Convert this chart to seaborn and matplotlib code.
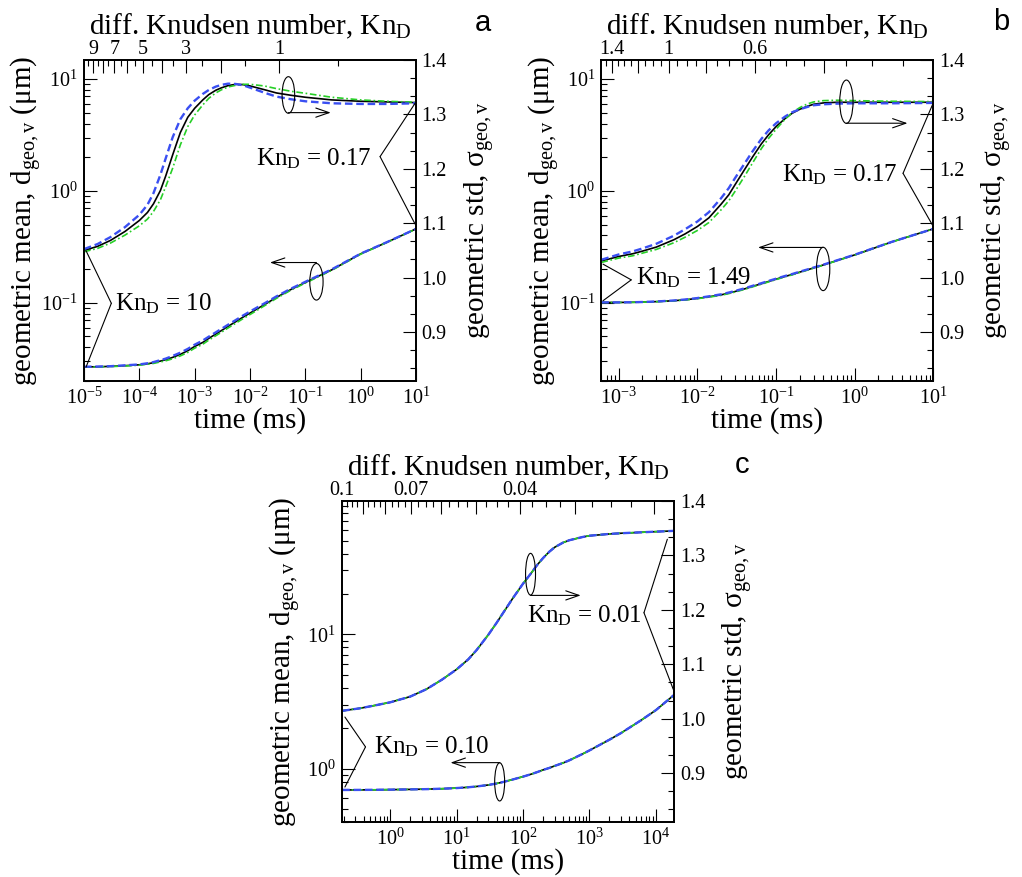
import numpy as np
import pandas as pd
import matplotlib
matplotlib.use("Agg")
import matplotlib.pyplot as plt
from matplotlib.patches import Ellipse
from matplotlib.ticker import (MultipleLocator, NullFormatter, FormatStrFormatter,
                               FixedLocator, LogFormatterSciNotation)
import seaborn as sns

# three simulation runs: solid black, dashed blue, dash-dot green
RUNS = ["run 1", "run 2", "run 3"]
DRAW_ORDER = ["run 1", "run 3", "run 2"]
PALETTE = {"run 1": "#000000", "run 2": "#3a4ff2", "run 3": "#27cf27"}
WIDTHS = {"run 1": 1.2, "run 2": 1.7, "run 3": 1.2}
DASHES = {"run 1": "", "run 2": (3.2, 1.6), "run 3": (4.0, 1.6, 1.0, 1.6)}

# ---------------- panel a : Kn_D 10 -> 0.17 ----------------
time_a = [1e-5, 1.75e-5, 3e-5, 5.5e-5, 1e-4, 1.4e-4, 1.8e-4, 2.4e-4, 3e-4, 4e-4,
          5.5e-4, 7.5e-4, 1e-3, 1.4e-3, 1.8e-3, 2.4e-3, 3e-3, 4e-3, 5.5e-3, 7.5e-3,
          1e-2, 1.8e-2, 3e-2, 5.5e-2, 1e-1, 3e-1, 1, 3, 10]
dgeo_a_run1 = [0.0267, 0.0268, 0.0270, 0.0274, 0.0279, 0.0285, 0.0291, 0.0301, 0.0310, 0.0325,
               0.0346, 0.0373, 0.0407, 0.0442, 0.0481, 0.0525, 0.0562, 0.0615, 0.0677, 0.0745,
               0.0809, 0.0960, 0.1116, 0.1316, 0.152, 0.197, 0.274, 0.348, 0.458]
dgeo_a_run2 = [0.0268, 0.0269, 0.0271, 0.0276, 0.0281, 0.0288, 0.0295, 0.0307, 0.0317, 0.0335,
               0.0358, 0.0387, 0.0422, 0.0460, 0.0498, 0.0544, 0.0582, 0.0636, 0.0700, 0.0770,
               0.0836, 0.0985, 0.1140, 0.1338, 0.1540, 0.199, 0.275, 0.349, 0.458]
dgeo_a_run3 = [0.0266, 0.0267, 0.0269, 0.0272, 0.0277, 0.0282, 0.0287, 0.0296, 0.0303, 0.0316,
               0.0335, 0.0360, 0.0393, 0.0426, 0.0464, 0.0507, 0.0543, 0.0595, 0.0656, 0.0722,
               0.0785, 0.0937, 0.1095, 0.1297, 0.150, 0.195, 0.272, 0.347, 0.457]
sgeo_a_run1 = [1.0500, 1.0573, 1.0683, 1.0848, 1.1050, 1.1197, 1.1356, 1.1600, 1.1870, 1.2256,
               1.2666, 1.2947, 1.3113, 1.3266, 1.3364, 1.3443, 1.3486, 1.3529, 1.3553, 1.3547,
               1.3523, 1.3455, 1.3394, 1.3351, 1.3315, 1.3266, 1.3241, 1.3229, 1.3217]
sgeo_a_run2 = [1.0524, 1.0616, 1.0744, 1.0928, 1.1154, 1.1338, 1.1552, 1.1889, 1.2195, 1.2580,
               1.2911, 1.3113, 1.3253, 1.3376, 1.3449, 1.3510, 1.3541, 1.3565, 1.3559, 1.3535,
               1.3492, 1.3400, 1.3327, 1.3278, 1.3241, 1.3204, 1.3192, 1.3192, 1.3204]
sgeo_a_run3 = [1.0475, 1.0536, 1.0634, 1.0781, 1.0952, 1.1075, 1.1215, 1.1430, 1.1674, 1.2011,
               1.2439, 1.2776, 1.2990, 1.3174, 1.3296, 1.3394, 1.3449, 1.3504, 1.3535, 1.3553,
               1.3553, 1.3523, 1.3474, 1.3425, 1.3388, 1.3315, 1.3266, 1.3241, 1.3223]

# ---------------- panel b : Kn_D 1.49 -> 0.17 ----------------
time_b = [6e-4, 1e-3, 1.5e-3, 2e-3, 3e-3, 5e-3, 7e-3, 1e-2, 1.4e-2, 2e-2, 2.5e-2, 3e-2,
          4e-2, 5e-2, 6.5e-2, 8e-2, 1e-1, 1.3e-1, 1.6e-1, 2e-1, 2.5e-1, 3e-1, 4e-1, 6e-1,
          1, 3, 10]
dgeo_b_run1 = [0.1007, 0.1007, 0.1010, 0.1014, 0.1024, 0.1043, 0.1064, 0.1094, 0.1132, 0.1177,
               0.1220, 0.1260, 0.1333, 0.1400, 0.1480, 0.1550, 0.1626, 0.1720, 0.1790, 0.1880,
               0.1970, 0.2050, 0.2180, 0.2390, 0.2680, 0.3510, 0.4580]
dgeo_b_run2 = [0.1008, 0.1008, 0.1011, 0.1016, 0.1027, 0.1048, 0.1070, 0.1102, 0.1142, 0.1190,
               0.1234, 0.1275, 0.1348, 0.1416, 0.1496, 0.1566, 0.1642, 0.1736, 0.1806, 0.1896,
               0.1985, 0.2064, 0.2193, 0.2400, 0.2690, 0.3515, 0.4580]
dgeo_b_run3 = [0.1006, 0.1006, 0.1009, 0.1013, 0.1022, 0.1040, 0.1059, 0.1088, 0.1124, 0.1166,
               0.1208, 0.1247, 0.1320, 0.1386, 0.1466, 0.1536, 0.1612, 0.1706, 0.1776, 0.1866,
               0.1957, 0.2038, 0.2170, 0.2382, 0.2673, 0.3505, 0.4575]
sgeo_b_run1 = [1.0305, 1.0389, 1.0438, 1.0487, 1.0561, 1.0695, 1.0805, 1.0940, 1.1099, 1.1350,
               1.1521, 1.1705, 1.1993, 1.2213, 1.2458, 1.2623, 1.2776, 1.2923, 1.3021, 1.3094,
               1.3149, 1.3186, 1.3211, 1.3223, 1.3223, 1.3223, 1.3223]
sgeo_b_run2 = [1.0328, 1.0426, 1.0481, 1.0536, 1.0622, 1.0769, 1.0891, 1.1032, 1.1203, 1.1460,
               1.1644, 1.1827, 1.2103, 1.2317, 1.2550, 1.2703, 1.2837, 1.2960, 1.3039, 1.3094,
               1.3137, 1.3168, 1.3186, 1.3198, 1.3204, 1.3204, 1.3211]
sgeo_b_run3 = [1.0279, 1.0359, 1.0401, 1.0450, 1.0518, 1.0640, 1.0744, 1.0867, 1.1013, 1.1246,
               1.1411, 1.1583, 1.1870, 1.2103, 1.2372, 1.2556, 1.2727, 1.2911, 1.3033, 1.3125,
               1.3192, 1.3229, 1.3253, 1.3260, 1.3253, 1.3241, 1.3235]

# ---------------- panel c : Kn_D 0.10 -> 0.01 ----------------
time_c = [0.19, 0.35, 0.6, 1, 2, 3.5, 6, 10, 15, 20, 30, 40, 50, 70, 100, 130, 165, 200,
          250, 300, 400, 500, 800, 1000, 2000, 3000, 6000, 1e4, 1.9e4]
dgeo_c_run1 = [0.693, 0.694, 0.695, 0.697, 0.700, 0.703, 0.708, 0.716, 0.726, 0.736,
               0.755, 0.774, 0.794, 0.829, 0.871, 0.906, 0.943, 0.977, 1.012, 1.047,
               1.101, 1.153, 1.290, 1.365, 1.641, 1.841, 2.291, 2.723, 3.550]
sgeo_c_run1 = [1.0144, 1.0190, 1.0245, 1.0300, 1.0405, 1.0540, 1.0715, 1.0905, 1.1090, 1.1260,
               1.1540, 1.1760, 1.1940, 1.2210, 1.2480, 1.2660, 1.2830, 1.2950, 1.3070, 1.3150,
               1.3235, 1.3280, 1.3340, 1.3362, 1.3395, 1.3408, 1.3425, 1.3437, 1.3452]
# the three runs coincide in the continuum regime
dgeo_c_run2 = list(dgeo_c_run1)
dgeo_c_run3 = list(dgeo_c_run1)
sgeo_c_run2 = list(sgeo_c_run1)
sgeo_c_run3 = list(sgeo_c_run1)

# top-axis (Knudsen number) ticks
kn_a_major = [1, 2, 3, 4, 5, 6, 7, 8, 9]
kn_a_labels = ["1", "", "3", "", "5", "", "7", "", "9"]
kn_a_minor = [0.5, 1.5, 2.5, 3.5, 4.5, 5.5, 6.5, 7.5, 8.5, 9.5]
kn_b_major = [0.4, 0.6, 0.8, 1.0, 1.2, 1.4]
kn_b_labels = ["", "0.6", "", "1", "", "1.4"]
kn_b_minor = [0.25, 0.3, 0.35, 0.45, 0.5, 0.55, 0.65, 0.7, 0.75, 0.85, 0.9, 0.95,
              1.05, 1.1, 1.15, 1.25, 1.3, 1.35, 1.45]
kn_c_major = [0.02, 0.03, 0.04, 0.05, 0.06, 0.07, 0.08, 0.09, 0.1]
kn_c_labels = ["", "", "0.04", "", "", "0.07", "", "", "0.1"]
kn_c_minor = [v for v in np.arange(0.0200, 0.1001, 0.0025)
              if min(abs(v - m) for m in kn_c_major) > 1e-6]

sns.set_theme(style="ticks")
plt.rcParams.update({
    "font.family": ["Liberation Serif", "DejaVu Serif"],
    "mathtext.fontset": "custom",
    "mathtext.rm": "Liberation Serif",
    "mathtext.it": "Liberation Serif:italic",
    "mathtext.bf": "Liberation Serif:bold",
    "mathtext.default": "regular",
    "axes.unicode_minus": False,
    "axes.edgecolor": "black",
    "axes.linewidth": 1.1,
    "text.color": "black",
    "axes.labelcolor": "black",
    "xtick.color": "black",
    "ytick.color": "black",
    "axes.facecolor": "white",
    "figure.facecolor": "white",
})

LABEL_FS = 21
TICK_FS = 14.5
NOTE_FS = 18


def long_frame(time, dgeo, sgeo):
    parts = []
    for run, dv, sv in zip(RUNS, dgeo, sgeo):
        parts.append(pd.DataFrame({"time": time, "run": run, "d": dv, "sigma": sv}))
    return pd.concat(parts, ignore_index=True)


def style_ticks(axis_obj, **kw):
    axis_obj.tick_params(which="both", direction="in", width=0.8, labelsize=TICK_FS, **kw)
    axis_obj.tick_params(which="major", length=9.5)
    axis_obj.tick_params(which="minor", length=4.5)


def decades_within(lo, hi):
    """Powers of ten that fall inside [lo, hi]."""
    return [10.0 ** k for k in range(int(np.ceil(np.log10(lo) - 1e-9)),
                                     int(np.floor(np.log10(hi) + 1e-9)) + 1)]


def draw_panel(fig, rect, letter, letter_xy, time, dgeo, sgeo, xlim, dlim,
               kn_lim, kn_major, kn_labels, kn_minor, brackets, ellipses):
    df = long_frame(time, dgeo, sgeo)
    line_kw = dict(x="time", hue="run", size="run", style="run",
                   hue_order=DRAW_ORDER, size_order=DRAW_ORDER, style_order=DRAW_ORDER,
                   palette=PALETTE, sizes=WIDTHS, dashes=DASHES,
                   estimator=None, legend=False)

    ax = fig.add_axes(rect)
    ax.set_xscale("log")
    ax.set_yscale("log")
    sns.lineplot(data=df, y="d", ax=ax, **line_kw)
    ax.set_xlim(*xlim)
    ax.set_ylim(*dlim)
    ax.xaxis.set_major_locator(FixedLocator(decades_within(*xlim)))
    ax.yaxis.set_major_locator(FixedLocator(decades_within(*dlim)))
    ax.xaxis.set_major_formatter(LogFormatterSciNotation())
    ax.yaxis.set_major_formatter(LogFormatterSciNotation())
    style_ticks(ax, top=False, right=False, pad=4.5)
    ax.set_xlabel("time (ms)", fontsize=LABEL_FS)
    ax.set_ylabel("geometric mean, d$_{\\rm geo,v}$ (μm)", fontsize=LABEL_FS)
    ax.xaxis.set_label_coords(0.5, -0.081)
    ax.yaxis.set_label_coords(-0.119, 0.5)

    ax2 = ax.twinx()
    sns.lineplot(data=df, y="sigma", ax=ax2, **line_kw)
    ax2.set_xlabel("")
    ax2.set_ylim(0.81, 1.4)
    ax2.yaxis.set_major_locator(MultipleLocator(0.1))
    ax2.yaxis.set_minor_locator(MultipleLocator(0.1 / 3))
    ax2.yaxis.set_major_formatter(FormatStrFormatter("%.1f"))
    style_ticks(ax2, left=False, right=True, pad=4)
    ax2.set_ylabel("geometric std, σ$_{\\rm geo,v}$", fontsize=LABEL_FS)
    ax2.yaxis.set_label_coords(1.138, 0.5)

    axt = ax.twiny()
    axt.set_xscale("log")
    axt.set_xlim(*kn_lim)
    axt.set_xticks(kn_major, labels=kn_labels)
    axt.set_xticks(kn_minor, minor=True)
    axt.xaxis.set_minor_formatter(NullFormatter())
    axt.set_ylabel("")
    style_ticks(axt, top=True, bottom=False, pad=0.5)
    axt.set_xlabel("diff. Knudsen number, Kn$_{\\rm D}$", fontsize=LABEL_FS)
    axt.xaxis.set_label_coords(0.5, 1.08)

    for txt, txy, ha, vertex, ends in brackets:
        for end in ends:
            axt.plot([vertex[0], end[0]], [vertex[1], end[1]], transform=axt.transAxes,
                     color="black", lw=0.8, clip_on=False)
        axt.text(txy[0], txy[1], txt, transform=axt.transAxes, ha=ha, va="center",
                 fontsize=NOTE_FS)

    for (cx, cy), w, h, y_arrow, x_tip in ellipses:
        axt.add_patch(Ellipse((cx, cy), w, h, transform=axt.transAxes, fill=False,
                              ec="black", lw=0.8))
        axt.annotate("", xy=(x_tip, y_arrow), xytext=(cx, y_arrow),
                     xycoords="axes fraction", textcoords="axes fraction",
                     arrowprops=dict(arrowstyle="->,head_length=0.95,head_width=0.33",
                                     lw=0.8, color="black", shrinkA=0, shrinkB=0,
                                     mutation_scale=10))

    fig.text(letter_xy[0], letter_xy[1], letter, fontsize=21, family="Liberation Sans",
             ha="center", va="center")
    return ax


fig = plt.figure(figsize=(10.22, 8.77), dpi=100)

draw_panel(
    fig, [0.0822, 0.5656, 0.3249, 0.3660], "a", (0.4726, 0.9738),
    time_a, [dgeo_a_run1, dgeo_a_run2, dgeo_a_run3], [sgeo_a_run1, sgeo_a_run2, sgeo_a_run3],
    (1e-5, 10), (0.02, 14.8), (10, 0.2), kn_a_major, kn_a_labels, kn_a_minor,
    brackets=[
        ("Kn$_{\\rm D}$ = 10", (0.092, 0.240), "left", (0.0823, 0.242),
         [(0.006, 0.406), (0.006, 0.043)]),
        ("Kn$_{\\rm D}$ = 0.17", (0.866, 0.694), "right", (0.8916, 0.699),
         [(0.997, 0.865), (0.997, 0.489)]),
    ],
    ellipses=[
        ((0.6155, 0.891), 0.038, 0.114, 0.836, 0.743),
        ((0.700, 0.309), 0.040, 0.114, 0.369, 0.560),
    ],
)

draw_panel(
    fig, [0.5884, 0.5656, 0.3249, 0.3660], "b", (0.9795, 0.9749),
    time_b, [dgeo_b_run1, dgeo_b_run2, dgeo_b_run3], [sgeo_b_run1, sgeo_b_run2, sgeo_b_run3],
    (6e-4, 10), (0.02, 14.8), (1.49, 0.209), kn_b_major, kn_b_labels, kn_b_minor,
    brackets=[
        ("Kn$_{\\rm D}$ = 1.49", (0.105, 0.322), "left", (0.090, 0.315),
         [(0.005, 0.364), (0.005, 0.250)]),
        ("Kn$_{\\rm D}$ = 0.17", (0.8936, 0.642), "right", (0.9086, 0.647),
         [(0.997, 0.860), (0.997, 0.486)]),
    ],
    ellipses=[
        ((0.738, 0.870), 0.040, 0.135, 0.803, 0.922),
        ((0.668, 0.349), 0.040, 0.135, 0.416, 0.472),
    ],
)

draw_panel(
    fig, [0.3349, 0.0627, 0.3249, 0.3660], "c", (0.7258, 0.4698),
    time_c, [dgeo_c_run1, dgeo_c_run2, dgeo_c_run3], [sgeo_c_run1, sgeo_c_run2, sgeo_c_run3],
    (0.19, 1.9e4), (0.4, 98.5), (0.1, 0.018), kn_c_major, kn_c_labels, kn_c_minor,
    brackets=[
        ("Kn$_{\\rm D}$ = 0.10", (0.095, 0.234), "left", (0.070, 0.234),
         [(0.008, 0.327), (0.008, 0.109)]),
        ("Kn$_{\\rm D}$ = 0.01", (0.9036, 0.642), "right", (0.9086, 0.652),
         [(0.979, 0.881), (0.997, 0.413)]),
    ],
    ellipses=[
        ((0.567, 0.772), 0.030, 0.130, 0.706, 0.718),
        ((0.474, 0.125), 0.030, 0.119, 0.185, 0.326),
    ],
)

fig.savefig("out.png", dpi=100)
